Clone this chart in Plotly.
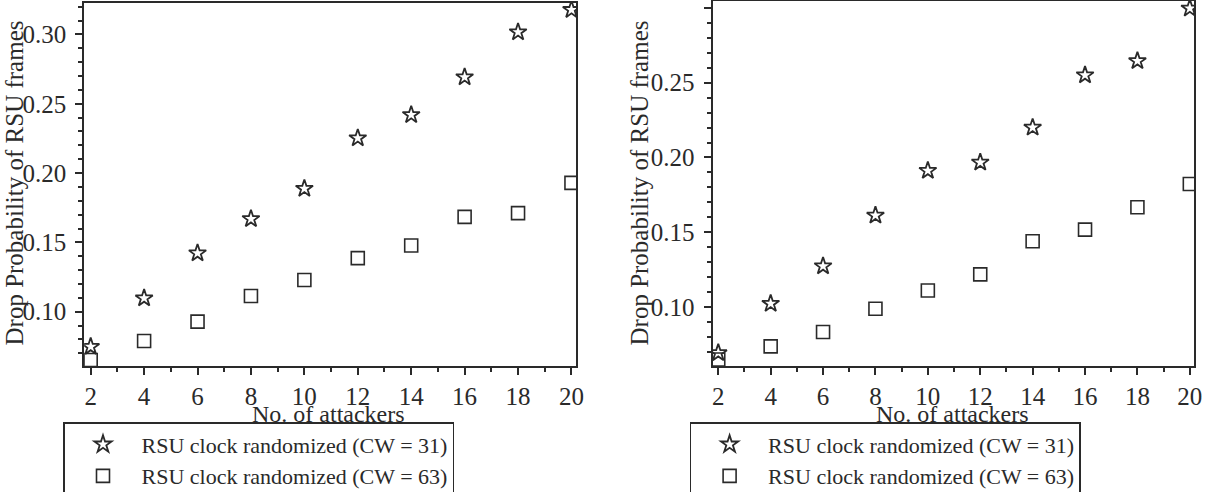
import plotly.graph_objects as go

attackers = [2, 4, 6, 8, 10, 12, 14, 16, 18, 20]

left_cw31 = [0.0747, 0.1097, 0.1422, 0.1669, 0.1888, 0.2252, 0.2420, 0.2692, 0.3017, 0.3178]
left_cw63 = [0.0651, 0.0788, 0.0928, 0.1113, 0.1229, 0.1386, 0.1477, 0.1684, 0.1711, 0.1929]

right_cw31 = [0.0696, 0.1025, 0.1275, 0.1613, 0.1912, 0.1967, 0.2200, 0.2549, 0.2644, 0.2995]
right_cw63 = [0.0652, 0.0740, 0.0836, 0.0991, 0.1113, 0.1220, 0.1441, 0.1519, 0.1668, 0.1823]

name31 = "RSU clock randomized (CW = 31)"
name63 = "RSU clock randomized (CW = 63)"
x_title = "No. of attackers"
y_title = "Drop Probability of RSU frames"

FONT = "Liberation Serif"
INK = "#2a2a2a"
W, H = 1221, 492

star = dict(symbol="star-open", size=13, color=INK, line=dict(color=INK, width=1.8))
square = dict(symbol="square-open", size=13, color=INK, line=dict(color=INK, width=1.6))

fig = go.Figure()
fig.add_trace(go.Scatter(x=attackers, y=left_cw31, mode="markers", marker=star,
                         name=name31, xaxis="x", yaxis="y", legend="legend"))
fig.add_trace(go.Scatter(x=attackers, y=left_cw63, mode="markers", marker=square,
                         name=name63, xaxis="x", yaxis="y", legend="legend"))
fig.add_trace(go.Scatter(x=attackers, y=right_cw31, mode="markers", marker=star,
                         name=name31, xaxis="x2", yaxis="y2", legend="legend2"))
fig.add_trace(go.Scatter(x=attackers, y=right_cw63, mode="markers", marker=square,
                         name=name63, xaxis="x2", yaxis="y2", legend="legend2"))

def xax(domain, rng, anchor):
    return dict(domain=domain, range=rng, anchor=anchor, tickmode="linear", tick0=2, dtick=2,
                ticks="outside", ticklen=7, tickwidth=1.5, tickcolor=INK, ticklabelstandoff=0,
                minor=dict(tickmode="linear", tick0=1, dtick=1, ticks="outside", ticklen=4,
                           tickwidth=1.5, tickcolor=INK, showgrid=False),
                showline=True, mirror=True, linecolor=INK, linewidth=2,
                showgrid=False, zeroline=False,
                tickfont=dict(family=FONT, size=25, color=INK))

def yax(domain, rng, anchor):
    return dict(domain=domain, range=rng, anchor=anchor, tickmode="linear", tick0=0.1, dtick=0.05,
                tickformat=".2f",
                ticks="outside", ticklen=7, tickwidth=1.5, tickcolor=INK, ticklabelstandoff=4,
                minor=dict(tickmode="linear", tick0=0.1, dtick=0.01, ticks="outside", ticklen=4,
                           tickwidth=1.5, tickcolor=INK, showgrid=False),
                showline=True, mirror=True, linecolor=INK, linewidth=2,
                showgrid=False, zeroline=False,
                tickfont=dict(family=FONT, size=25, color=INK))

legend_style = dict(bordercolor=INK, borderwidth=1.5, bgcolor="rgba(255,255,255,0)",
                    font=dict(family=FONT, size=22, color=INK),
                    xanchor="left", yanchor="top", itemwidth=67, tracegroupgap=0)

def title_ann(text, x, y, angle):
    return dict(text=text, x=x / W, y=(H - y) / H, xref="paper", yref="paper",
                textangle=angle, showarrow=False, xanchor="center", yanchor="middle",
                font=dict(family=FONT, size=25 if angle else 24, color=INK))

fig.update_layout(
    width=W, height=H,
    margin=dict(l=0, r=0, t=0, b=0, autoexpand=False),
    paper_bgcolor="white", plot_bgcolor="white",
    xaxis=xax([84.2 / W, 576 / W], [1.757, 20.17], "y"),
    yaxis=yax([(H - 366) / H, (H - 3) / H], [0.0608, 0.3227], "x"),
    xaxis2=xax([712.5 / W, 1194.4 / W], [1.78, 20.175], "y2"),
    yaxis2=yax([(H - 366) / H, (H - 1) / H], [0.0609, 0.3044], "x2"),
    legend=dict(x=63 / W, y=(H - 422) / H, **legend_style),
    legend2=dict(x=689.6 / W, y=(H - 422) / H, **legend_style),
    showlegend=True,
    annotations=[
        title_ann(y_title, 14, 183.5, -90),
        title_ann(y_title, 639, 183.5, -90),
        title_ann(x_title, 328, 414, 0),
        title_ann(x_title, 952, 414, 0),
    ],
)

fig.write_html("out.html")
